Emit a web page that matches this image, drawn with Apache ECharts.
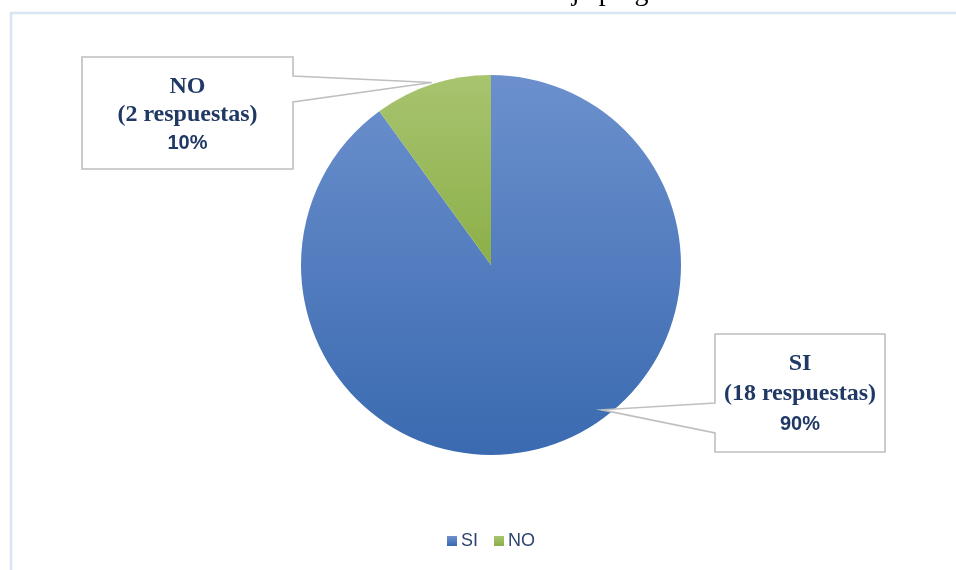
<!DOCTYPE html>
<html>
<head>
<meta charset="utf-8">
<title>Porcentaje pregunta</title>
<script src="https://cdn.jsdelivr.net/npm/echarts@6/dist/echarts.min.js"></script>
<style>
  html, body { margin: 0; padding: 0; background: #ffffff; }
  #chart { width: 956px; height: 570px; }
</style>
</head>
<body>
<div id="chart"></div>
<script>
// Survey answers
const categories = ['SI', 'NO'];
const responses = [18, 2];
const titleText = 'Gráfico N° 6: Porcentaje pregunta 6';

// Slice fills (vertical gradients, light at top)
const sliceColors = [
  ['#6C90CD', '#3A6AB0'],
  ['#A8C46F', '#8CAF48']
];

// Callout boxes: box rectangle, side where the pointer leaves the box,
// the pointer's two attachment offsets along that side, where on the
// slice the pointer tip lands (fraction of the slice sweep, fraction of radius),
// text line spacing and vertical nudge of the text block
const callouts = [
  { x: 715, y: 334, w: 170, h: 118, side: 'left',  g1: 69, g2: 99, t: 0.44, k: 0.96, step: 30.5, dy: 1 },
  { x: 82,  y: 57,  w: 211, h: 112, side: 'right', g1: 19, g2: 45, t: 0.5,  k: 1.01, step: 28.5, dy: 2 }
];

const total = responses.reduce((a, b) => a + b, 0);
const navy = '#1F3864';

const chart = echarts.init(document.getElementById('chart'), null, { renderer: 'canvas' });

const option = {
  animation: false,
  backgroundColor: '#ffffff',
  legend: {
    data: categories,
    left: 442,
    top: 527,
    icon: 'rect',
    itemWidth: 10,
    itemHeight: 10,
    itemGap: 16,
    textStyle: { fontFamily: 'Liberation Sans', fontSize: 18, color: '#2E4470', padding: [0, 0, 0, -1] }
  },
  series: [{
    type: 'pie',
    center: [491, 265],
    radius: 190,
    startAngle: 90,
    clockwise: true,
    label: { show: false },
    labelLine: { show: false },
    emphasis: { disabled: true },
    data: categories.map((name, i) => ({
      name,
      value: responses[i],
      itemStyle: {
        color: new echarts.graphic.LinearGradient(0, 0, 0, 1, [
          { offset: 0, color: sliceColors[i][0] },
          { offset: 1, color: sliceColors[i][1] }
        ])
      }
    }))
  }]
};

chart.setOption(option);

// Build callout shapes from the pie layout computed by ECharts
const data = chart.getModel().getSeriesByIndex(0).getData();
const graphics = [];

// outer frame
graphics.push({
  type: 'rect',
  shape: { x: 11, y: 13, width: 990, height: 600 },
  style: { fill: null, stroke: '#D9E4F3', lineWidth: 2.5 },
  z: 1
});

// title (sits at the top edge of the page)
graphics.push({
  type: 'text',
  x: 314,
  y: 7,
  style: {
    text: titleText,
    font: '28px "Liberation Serif"',
    fill: '#000000',
    textAlign: 'left',
    textVerticalAlign: 'bottom'
  },
  z: 20
});

categories.forEach((name, i) => {
  const lay = data.getItemLayout(i);
  const c = callouts[i];
  const a = lay.startAngle + (lay.endAngle - lay.startAngle) * c.t;
  const tip = [lay.cx + lay.r * c.k * Math.cos(a), lay.cy + lay.r * c.k * Math.sin(a)];
  let pts;
  if (c.side === 'left') {
    pts = [[c.x, c.y], [c.x + c.w, c.y], [c.x + c.w, c.y + c.h], [c.x, c.y + c.h],
           [c.x, c.y + c.g2], tip, [c.x, c.y + c.g1]];
  } else {
    pts = [[c.x, c.y], [c.x + c.w, c.y], [c.x + c.w, c.y + c.g1], tip,
           [c.x + c.w, c.y + c.g2], [c.x + c.w, c.y + c.h], [c.x, c.y + c.h]];
  }
  graphics.push({
    type: 'polygon',
    shape: { points: pts },
    style: { fill: '#ffffff', stroke: '#BFBFBF', lineWidth: 1.6 },
    z: 10
  });
  const pct = Math.round(responses[i] / total * 100) + '%';
  const cx = c.x + c.w / 2;
  const midY = c.y + c.h / 2 + c.dy;
  graphics.push({
    type: 'text', x: cx, y: midY - c.step,
    style: { text: name, font: 'bold 24px "Liberation Serif"', fill: navy, textAlign: 'center', textVerticalAlign: 'middle' },
    z: 11
  });
  graphics.push({
    type: 'text', x: cx, y: midY,
    style: { text: '(' + responses[i] + ' respuestas)', font: 'bold 24px "Liberation Serif"', fill: navy, textAlign: 'center', textVerticalAlign: 'middle' },
    z: 11
  });
  graphics.push({
    type: 'text', x: cx, y: midY + c.step,
    style: { text: pct, font: 'bold 20px "Liberation Sans"', fill: navy, textAlign: 'center', textVerticalAlign: 'middle' },
    z: 11
  });
});

chart.setOption({ graphic: graphics });
</script>
</body>
</html>
